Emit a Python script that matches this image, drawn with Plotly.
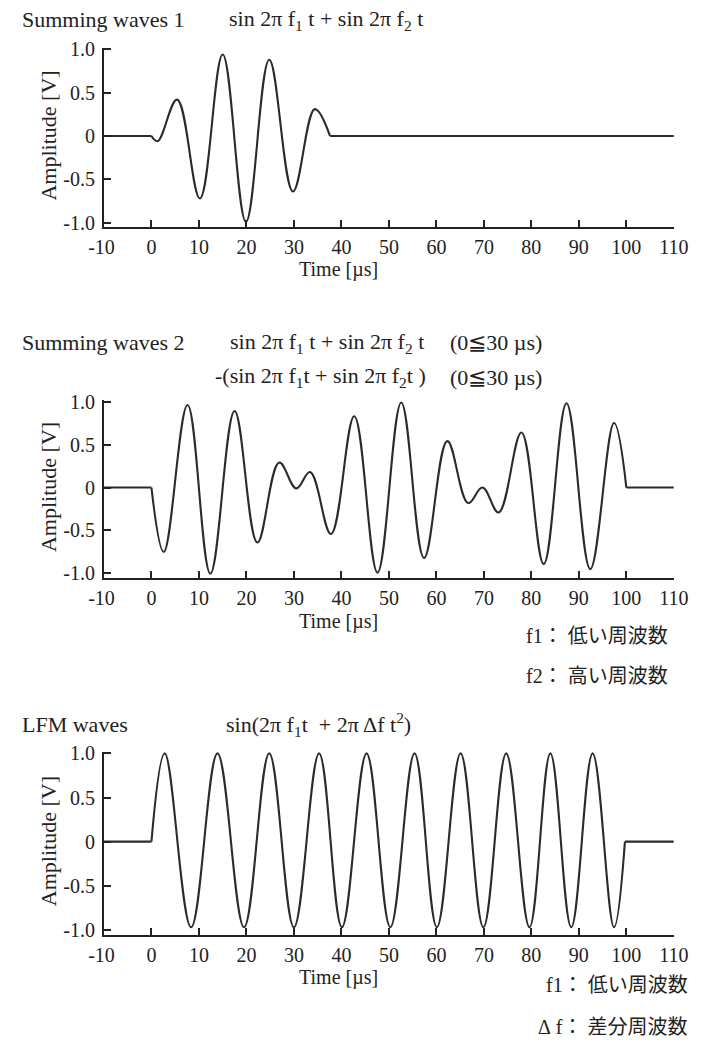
import plotly.graph_objects as go

# ---------------- data ----------------
# Summing waves 1: burst sampled at its turning points, flat before and after
sw1_time = [-10, 0, 1.3, 5.4, 10.2, 15.0, 19.9, 24.8, 29.8, 34.4, 37.6, 110]
sw1_amp = [0, 0, -0.06, 0.42, -0.72, 0.94, -0.99, 0.88, -0.64, 0.31, 0, 0]

# Summing waves 2: burst followed by its inverted copy
sw2_time = [-10, 0, 2.6, 7.6, 12.4, 17.5, 22.3, 26.9, 30.5, 33.4, 37.8, 42.7,
            47.6, 52.6, 57.4, 62.3, 66.7, 69.7, 73.1, 77.9, 82.6, 87.4, 92.4,
            97.4, 100, 110]
sw2_amp = [0, 0, -0.75, 0.96, -1.0, 0.89, -0.64, 0.29, -0.01, 0.18, -0.54, 0.83,
           -0.99, 0.99, -0.82, 0.54, -0.18, 0.0, -0.29, 0.64, -0.89, 0.98, -0.95,
           0.75, 0, 0]

# LFM waves: chirp, period shrinking with time
lfm_time = [-10, 0, 2.8, 8.35, 13.9, 19.5, 24.8, 30.0, 35.3, 40.1, 45.3, 50.3,
            55.4, 60.1, 65.1, 69.9, 74.7, 79.6, 84.0, 88.4, 92.9, 97.4, 99.7, 110]
lfm_amp = [0, 0, 1.0, -0.97, 1.0, -0.97, 1.0, -0.97, 1.0, -0.97, 1.0, -0.97,
           1.0, -0.97, 1.0, -0.97, 1.0, -0.97, 1.0, -0.97, 1.0, -0.97, 0, 0]

x_tickvals = [-10, 0, 10, 20, 30, 40, 50, 60, 70, 80, 90, 100, 110]
x_ticktext = ["-10\u00a0", "0", "10", "20", "30", "40", "50", "60", "70", "80", "90", "100", "110"]
y_tickvals = [1.0, 0.5, 0, -0.5, -1.0]
y_ticktext = ["1.0", "0.5", "0", "-0.5", "-1.0"]

x_title = "Time [µs]"
y_title = "Amplitude [V]"

# ---------------- layout helpers ----------------
PAGE_W, PAGE_H = 723, 1056
BODY = 8                       # default body margin of the html page
W, H = PAGE_W - 2 * BODY, PAGE_H - 2 * BODY
SERIF = "Liberation Serif, Times New Roman, serif"
JP = "Liberation Serif, Noto Sans CJK JP, sans-serif"
INK = "#222222"
LINE = "#2b2b2b"


def px(x):
    """page x pixel -> paper fraction"""
    return (x - BODY) / W


def py(y):
    """page y pixel -> paper fraction"""
    return 1 - (y - BODY) / H


# page-pixel geometry of each panel: x-axis ends, y pixel of +1 and -1, axis bottom
panels = [
    dict(t=sw1_time, a=sw1_amp, left=100, right=696, p1=49.0, m1=225.0, bottom=229.0),
    dict(t=sw2_time, a=sw2_amp, left=100, right=696, p1=406.7, m1=581.3, bottom=586.0),
    dict(t=lfm_time, a=lfm_amp, left=100, right=696, p1=764.0, m1=943.3, bottom=948.0),
]

fig = go.Figure()
layout = dict(
    width=W, height=H, autosize=False,
    margin=dict(l=0, r=0, t=0, b=0),
    paper_bgcolor="white", plot_bgcolor="white",
    showlegend=False,
)
annotations = []

for i, p in enumerate(panels, start=1):
    xa = "x" if i == 1 else f"x{i}"
    ya = "y" if i == 1 else f"y{i}"
    unit = (p["m1"] - p["p1"]) / 2.0
    zero_px = p["p1"] + unit
    top_val = 1.02
    bot_val = -(p["bottom"] - zero_px) / unit
    top_px = zero_px - top_val * unit

    t, a = p["t"], p["a"]
    # flat lead-in and tail drawn straight, the burst itself smoothed
    for seg_t, seg_a, shape in ((t[:2], a[:2], "linear"),
                                (t[1:-1], a[1:-1], "spline"),
                                (t[-2:], a[-2:], "linear")):
        line = dict(color=LINE, width=2.1, shape=shape)
        if shape == "spline":
            line["smoothing"] = 1.1
        fig.add_trace(go.Scatter(x=seg_t, y=seg_a, mode="lines", line=line,
                                 xaxis=xa, yaxis=ya, hoverinfo="skip"))

    axis_common = dict(
        showgrid=False, zeroline=False, showline=True, linecolor=INK, linewidth=2,
        ticks="inside", ticklen=7, tickwidth=1.5, tickcolor=INK,
        tickfont=dict(family=SERIF, size=20, color=INK), fixedrange=True,
    )
    layout["xaxis" if i == 1 else f"xaxis{i}"] = dict(
        axis_common, domain=[px(p["left"]), px(p["right"])], range=[-10, 110],
        tickmode="array", tickvals=x_tickvals, ticktext=x_ticktext,
        anchor=ya, ticklabelstandoff=1,
    )
    layout["yaxis" if i == 1 else f"yaxis{i}"] = dict(
        axis_common, domain=[py(p["bottom"]), py(top_px)], range=[bot_val, top_val],
        tickmode="array", tickvals=y_tickvals, ticktext=y_ticktext,
        anchor=xa, ticklabelstandoff=3,
    )

    # axis titles
    annotations.append(dict(text=y_title, x=px(42), y=py(zero_px), xref="paper", yref="paper",
                            textangle=-90, showarrow=False, xanchor="center", yanchor="middle",
                            font=dict(family=SERIF, size=22, color=INK)))
    annotations.append(dict(text=x_title, x=px(345), y=py(p["bottom"] + 44), xref="paper",
                            yref="paper", showarrow=False, xanchor="center", yanchor="middle",
                            font=dict(family=SERIF, size=20, color=INK)))


def label(text, x, y, size=22, family=SERIF, anchor="left"):
    annotations.append(dict(text=text, x=px(x), y=py(y), xref="paper", yref="paper",
                            showarrow=False, xanchor=anchor, yanchor="middle",
                            font=dict(family=family, size=size, color=INK)))


NB = "\u00a0"
# panel headings and formulas
label("Summing waves 1", 12, 19)
label("sin 2π f<sub>1</sub>" + NB + "t + sin 2π f<sub>2</sub>" + NB + "t", 229, 19)

label("Summing waves 2", 12, 347)
label("sin 2π f<sub>1</sub>" + NB + "t + sin 2π f<sub>2</sub>" + NB + "t", 230, 347)
label("(0≦30 µs)", 460, 347)
label("-(sin 2π f<sub>1</sub>t + sin 2π f<sub>2</sub>t )", 214, 382)
label("(0≦30 µs)", 460, 382)

label("LFM waves", 12, 735)
label("sin(2π f<sub>1</sub>t" + NB + NB + "+ 2π Δf" + NB + "t<sup>2</sup>)", 226, 735)

# symbol notes
label("f1：" + NB + "低い周波数", 692, 645, size=20, family=JP, anchor="right")
label("f2：" + NB + "高い周波数", 692, 685, size=20, family=JP, anchor="right")
label("f1：" + NB + "低い周波数", 713, 999, size=20, family=JP, anchor="right")
label("Δ" + NB + "f：" + NB + "差分周波数", 713, 1042, size=20, family=JP, anchor="right")

layout["annotations"] = annotations
fig.update_layout(**layout)
fig.write_html("out.html")
